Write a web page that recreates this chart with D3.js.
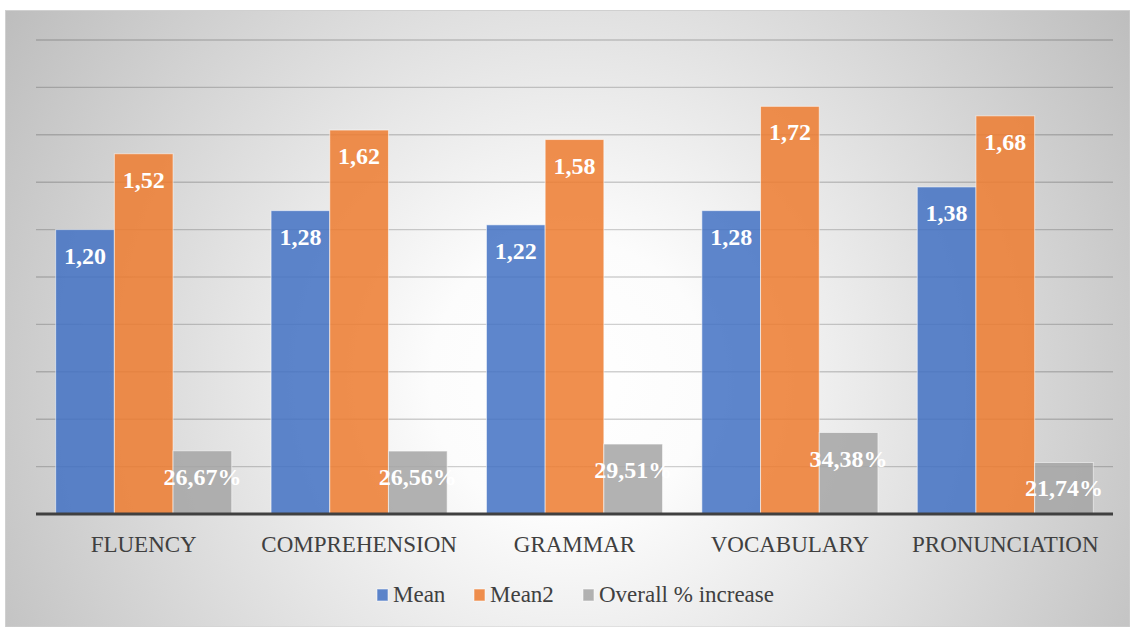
<!DOCTYPE html>
<html>
<head>
<meta charset="utf-8">
<script src="https://cdn.jsdelivr.net/npm/d3@7"></script>
<style>
  body { margin: 0; background: #ffffff; font-family: "Liberation Serif", serif; }
  #chart, #chart text { font-family: "Liberation Serif", serif !important; }
</style>
</head>
<body>
<svg id="chart" width="1130" height="627" font-family="Liberation Serif" style="display:block"></svg>
<script>
// Skill categories on the x axis
const categories = ["FLUENCY", "COMPREHENSION", "GRAMMAR", "VOCABULARY", "PRONUNCIATION"];
// Series names (legend order)
const seriesNames = ["Mean", "Mean2", "Overall % increase"];
// Series values
const meanValues = [1.20, 1.28, 1.22, 1.28, 1.38];
const mean2Values = [1.52, 1.62, 1.58, 1.72, 1.68];
const increasePercent = [26.67, 26.56, 29.51, 34.38, 21.74];
// Gridline values of the value axis
const gridValues = [0.2, 0.4, 0.6, 0.8, 1.0, 1.2, 1.4, 1.6, 1.8, 2.0];

const colors = ["#4472C4", "#ED7D31", "#A5A5A5"];
const FONT = "Liberation Serif";

const svg = d3.select("#chart");
const W = 1130, H = 627;

// Chart background: radial light-grey gradient
const defs = svg.append("defs");
const grad = defs.append("radialGradient")
  .attr("id", "bg")
  .attr("gradientUnits", "userSpaceOnUse")
  .attr("cx", 570).attr("cy", 380).attr("r", 700);
grad.append("stop").attr("offset", "0").attr("stop-color", "#ffffff");
grad.append("stop").attr("offset", "0.2").attr("stop-color", "#fcfcfc");
grad.append("stop").attr("offset", "1").attr("stop-color", "#bababa");

svg.append("rect")
  .attr("x", 5.5).attr("y", 10.5)
  .attr("width", W - 5.5).attr("height", H - 10.5)
  .attr("fill", "url(#bg)")
  .attr("stroke", "#d0d0d0")
  .attr("stroke-width", 1);

const plot = { left: 36, right: 1113, top: 40, bottom: 514 };

const y = d3.scaleLinear().domain([0, 2.0]).range([plot.bottom, plot.top]);
const x0 = d3.scaleBand().domain(categories).range([plot.left, plot.right]).padding(0);
const gapRatio = 0.67; // gap between clusters relative to bar width
const barW = x0.bandwidth() / (seriesNames.length + gapRatio);
const x1 = d3.scaleBand().domain(seriesNames)
  .range([barW * gapRatio / 2, x0.bandwidth() - barW * gapRatio / 2])
  .padding(0);

// Horizontal gridlines
svg.append("g")
  .selectAll("line")
  .data(gridValues)
  .join("line")
  .attr("x1", plot.left).attr("x2", plot.right)
  .attr("y1", d => y(d)).attr("y2", d => y(d))
  .attr("stroke", "rgba(0,0,0,0.18)")
  .attr("stroke-width", 1.4);

// Data rows: the increase series is plotted as a fraction on the same axis
const fmt = v => d3.format(".2f")(v).replace(".", ",");
const rows = categories.map((c, i) => ({
  category: c,
  values: [
    { key: seriesNames[0], v: meanValues[i], label: fmt(meanValues[i]) },
    { key: seriesNames[1], v: mean2Values[i], label: fmt(mean2Values[i]) },
    { key: seriesNames[2], v: increasePercent[i] / 100, label: fmt(increasePercent[i]) + "%" }
  ]
}));

const groups = svg.append("g")
  .selectAll("g")
  .data(rows)
  .join("g")
  .attr("transform", d => `translate(${x0(d.category)},0)`);

groups.selectAll("rect")
  .data(d => d.values)
  .join("rect")
  .attr("x", d => x1(d.key))
  .attr("y", d => y(d.v))
  .attr("width", x1.bandwidth())
  .attr("height", d => y(0) - y(d.v))
  .attr("fill", (d, i) => colors[i])
  .attr("fill-opacity", 0.86)
  .attr("stroke", "rgba(255,255,255,0.55)")
  .attr("stroke-width", 1);

groups.selectAll("text")
  .data(d => d.values)
  .join("text")
  .attr("x", d => x1(d.key) + x1.bandwidth() / 2)
  .attr("y", d => y(d.v) + 34)
  .attr("text-anchor", "middle")
  .attr("font-family", FONT)
  .attr("font-weight", "bold")
  .attr("font-size", 24)
  .attr("fill", "#ffffff")
  .text(d => d.label);

// Category axis
svg.append("line")
  .attr("x1", plot.left).attr("x2", plot.right)
  .attr("y1", y(0)).attr("y2", y(0))
  .attr("stroke", "#404040")
  .attr("stroke-width", 3);

const xAxis = svg.append("g")
  .attr("transform", `translate(0,${y(0)})`)
  .call(d3.axisBottom(x0).tickSize(0).tickPadding(0))
  .attr("font-family", FONT)
  .attr("font-size", 23);
xAxis.select(".domain").remove();
xAxis.selectAll("text")
  .attr("y", 38)
  .attr("dy", null)
  .attr("font-family", FONT)
  .attr("fill", "#404040");

// Legend
const legendX = [377, 474, 583];
const legend = svg.append("g").attr("font-family", FONT).attr("font-size", 23);
seriesNames.forEach((name, i) => {
  legend.append("rect")
    .attr("x", legendX[i]).attr("y", 589)
    .attr("width", 11).attr("height", 12)
    .attr("fill", colors[i]).attr("fill-opacity", 0.86)
    .attr("stroke", "rgba(255,255,255,0.55)");
  legend.append("text")
    .attr("x", legendX[i] + 16).attr("y", 602)
    .attr("fill", "#404040")
    .text(name);
});
</script>
</body>
</html>
